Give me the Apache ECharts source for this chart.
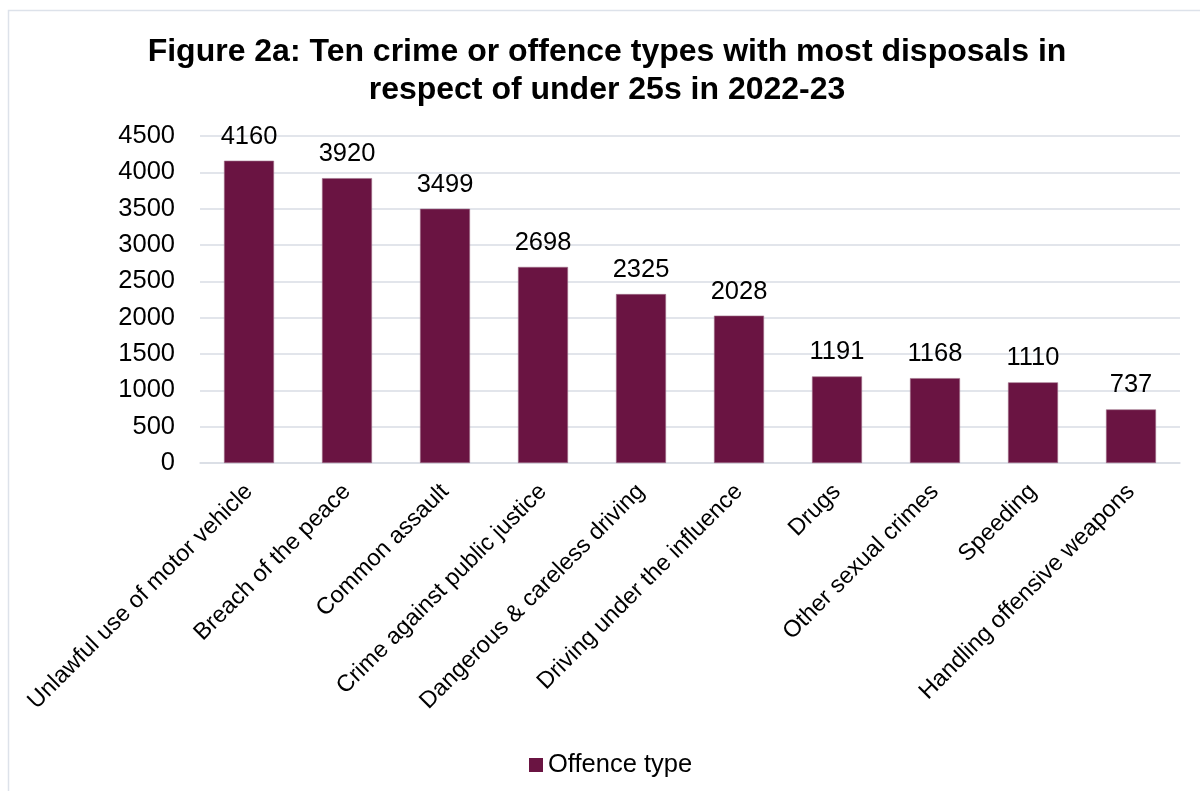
<!DOCTYPE html>
<html>
<head>
<meta charset="utf-8">
<script src="https://cdn.jsdelivr.net/npm/echarts@6/dist/echarts.min.js"></script>
<style>
  html, body { margin: 0; padding: 0; background: #fff; }
  #chart { width: 1200px; height: 791px; }
</style>
</head>
<body>
<div id="chart"></div>
<script>
// Offence types, ordered by number of disposals
const categories = [
  'Unlawful use of motor vehicle',
  'Breach of the peace',
  'Common assault',
  'Crime against public justice',
  'Dangerous & careless driving',
  'Driving under the influence',
  'Drugs',
  'Other sexual crimes',
  'Speeding',
  'Handling offensive weapons'
];
const disposals = [4160, 3920, 3499, 2698, 2325, 2028, 1191, 1168, 1110, 737];
const yTicks = [0, 500, 1000, 1500, 2000, 2500, 3000, 3500, 4000, 4500];

const barColor = '#6A1442';
const font = 'Liberation Sans, Arial, sans-serif';

const chart = echarts.init(document.getElementById('chart'), null, { renderer: 'canvas' });
chart.setOption({
  backgroundColor: '#fff',
  animation: false,
  graphic: [{
    type: 'rect',
    shape: { x: 8.5, y: 10.5, width: 1300, height: 900 },
    style: { fill: 'none', stroke: '#dde2ea', lineWidth: 1.5 },
    silent: true
  }],
  title: {
    text: 'Figure 2a: Ten crime or offence types with most disposals in\nrespect of under 25s in 2022-23',
    left: 602,
    textAlign: 'center',
    top: 28,
    textStyle: { fontFamily: font, fontWeight: 'bold', fontSize: 32, lineHeight: 38, color: '#000' }
  },
  legend: {
    top: 747,
    left: 524,
    itemWidth: 14,
    itemHeight: 14,
    itemGap: 6,
    icon: 'rect',
    itemStyle: { borderWidth: 0 },
    textStyle: { fontFamily: font, fontSize: 25.5, color: '#000' },
    data: ['Offence type']
  },
  grid: { left: 200, right: 20, top: 136, bottom: 328, containLabel: false },
  xAxis: {
    type: 'category',
    data: categories,
    axisLine: { show: true, lineStyle: { color: '#d9dde5', width: 1.5 } },
    axisTick: { show: false },
    axisLabel: {
      interval: 0,
      rotate: 45,
      margin: 25,
      fontFamily: font,
      fontSize: 23.5,
      color: '#000'
    }
  },
  yAxis: {
    type: 'value',
    min: yTicks[0],
    max: yTicks[yTicks.length - 1],
    interval: 500,
    axisLine: { show: false },
    axisTick: { show: false },
    splitLine: { lineStyle: { color: '#d9dde5', width: 1.5 } },
    axisLabel: {
      margin: 25,
      fontFamily: font,
      fontSize: 25.5,
      color: '#000',
      formatter: v => String(v)
    }
  },
  series: [{
    name: 'Offence type',
    type: 'bar',
    data: disposals,
    barWidth: 50,
    itemStyle: { color: barColor, borderColor: '#a0708a', borderWidth: 0.6 },
    label: {
      show: true,
      position: 'top',
      distance: 11,
      fontFamily: font,
      fontSize: 25.5,
      color: '#000'
    }
  }]
});
</script>
</body>
</html>
